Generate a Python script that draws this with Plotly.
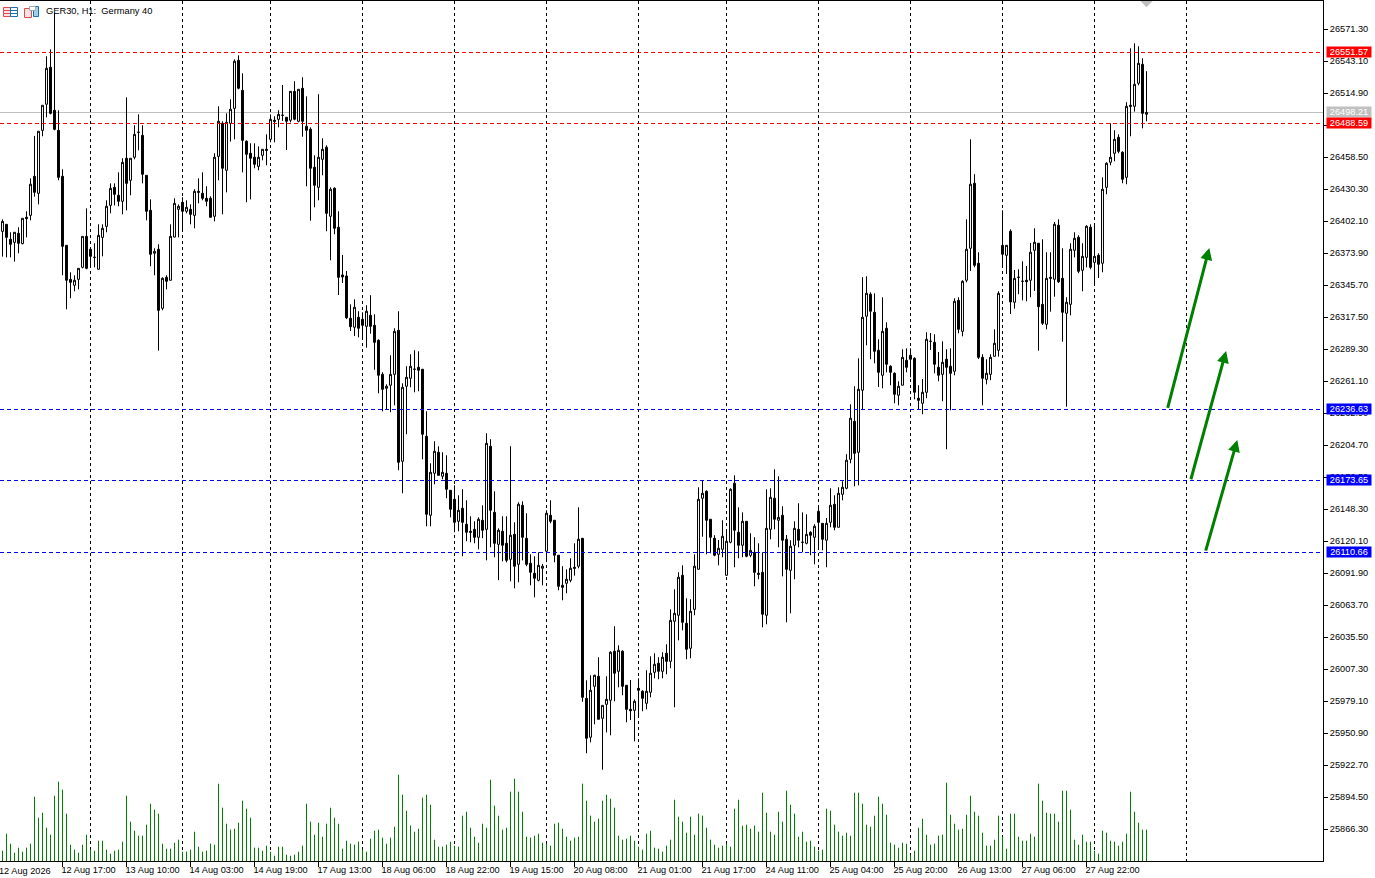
import plotly.graph_objects as go

opens = [
26393.4,26399.6,26386.4,26383.7,26391.7,26382.6,26405.8,26407.5,26441.9,26426.9,
26482.4,26505.4,26538.0,26500.1,26482.4,26441.9,26381.1,26351.1,26345.9,26351.1,
26361.7,26389.0,26377.6,26370.5,26360.0,26388.1,26397.8,26416.3,26432.2,26425.2,
26419.9,26457.8,26438.4,26458.7,26480.7,26478.0,26442.8,26411.9,26374.1,26377.6,
26325.6,26352.9,26350.3,26388.4,26412.8,26419.0,26411.1,26412.8,26407.5,26428.7,
26426.9,26422.5,26422.5,26406.7,26459.5,26488.6,26447.2,26488.6,26501.8,26544.1,
26517.7,26472.8,26462.2,26458.7,26450.7,26460.4,26465.7,26474.5,26491.3,26492.1,
26495.7,26493.9,26491.3,26516.8,26490.4,26519.5,26486.0,26483.4,26449.9,26432.2,
26456.9,26467.5,26406.7,26431.4,26397.0,26355.0,26354.1,26316.8,26308.9,26317.7,
26315.9,26309.7,26319.4,26310.6,26297.4,26267.4,26255.1,26257.8,26267.4,26306.2,
26190.8,26256.9,26263.9,26271.9,26273.6,26271.9,26212.8,26143.2,26180.2,26198.7,
26177.6,26180.2,26165.2,26157.3,26137.9,26149.4,26135.3,26129.1,26130.8,26123.8,
26138.8,26130.8,26204.0,26145.8,26117.6,26129.1,26118.5,26104.4,26126.4,26100.0,
26152.0,26122.9,26100.9,26092.1,26085.9,26096.5,26111.5,26143.2,26138.8,26108.0,
26081.5,26083.3,26085.9,26097.4,26098.3,26122.9,25981.9,25947.6,25992.5,26001.3,
25964.3,25976.6,25980.2,26023.4,26005.7,26023.4,25993.4,25972.2,25971.3,25990.7,
25988.1,25977.5,25987.2,26004.8,26012.8,26005.7,26021.6,26014.5,26049.8,26055.1,
26090.3,26048.0,26026.0,26060.3,26095.6,26158.2,26164.3,26139.7,26122.9,26108.8,
26113.2,26090.3,26119.4,26171.4,26128.2,26116.8,26137.9,26107.9,26110.6,26092.1,
26092.9,26055.1,26130.8,26158.2,26138.8,26143.2,26122.0,26094.7,26116.8,26130.8,
26119.4,26118.5,26128.2,26123.8,26146.7,26136.1,26121.2,26137.0,26152.9,26132.6,
26161.7,26167.0,26192.5,26226.0,26198.7,26253.4,26318.6,26338.0,26322.1,26288.6,
26266.6,26308.0,26274.5,26268.3,26249.0,26257.8,26279.8,26284.2,26281.5,26246.3,
26241.9,26251.6,26296.5,26295.6,26273.6,26267.4,26280.7,26274.5,26270.1,26332.6,
26305.3,26350.3,26378.5,26435.8,26365.3,26282.4,26263.0,26267.4,26283.3,26288.6,
26381.1,26372.3,26393.5,26330.9,26352.9,26349.4,26350.3,26350.3,26376.7,26382.9,
26329.1,26311.5,26352.9,26351.2,26398.8,26352.0,26321.2,26329.1,26376.7,26388.2,
26359.1,26370.5,26397.0,26366.1,26372.3,26365.3,26432.2,26454.3,26462.2,26476.3,
26463.1,26441.0,26504.5,26503.6,26523.9,26540.6,26496.6]

highs = [
26404.0,26399.6,26392.6,26392.6,26397.0,26404.9,26411.1,26440.1,26477.5,26481.6,
26504.5,26547.7,26553.8,26586.1,26500.1,26448.1,26381.1,26357.3,26354.7,26360.8,
26389.0,26413.7,26377.6,26382.9,26399.6,26399.6,26420.8,26435.7,26435.7,26445.4,
26457.8,26511.5,26457.8,26486.9,26496.5,26486.9,26442.8,26421.6,26378.5,26382.0,
26352.9,26354.7,26399.6,26422.5,26417.2,26423.4,26420.8,26417.2,26430.5,26440.1,
26445.4,26433.1,26424.3,26462.2,26503.6,26490.4,26497.4,26509.8,26545.0,26548.5,
26532.7,26473.6,26471.0,26471.0,26468.3,26465.7,26478.9,26496.5,26494.8,26500.1,
26522.4,26494.2,26516.8,26525.7,26518.6,26529.2,26512.4,26485.1,26460.4,26514.2,
26475.4,26469.2,26432.2,26432.2,26411.1,26372.6,26358.5,26329.1,26333.5,26323.0,
26322.1,26328.3,26337.1,26320.3,26298.3,26269.2,26258.6,26284.2,26308.0,26323.0,
26259.5,26274.5,26285.1,26288.6,26287.7,26271.9,26234.8,26189.0,26208.4,26204.0,
26198.7,26196.1,26165.2,26169.6,26160.8,26166.1,26156.4,26142.3,26137.9,26141.4,
26152.0,26215.5,26210.2,26164.3,26131.7,26142.3,26142.3,26204.0,26137.0,26154.6,
26155.5,26145.0,26108.8,26107.1,26110.6,26100.3,26147.6,26156.4,26139.1,26108.2,
26098.3,26095.6,26105.3,26118.5,26150.2,26123.2,25997.8,26002.2,26002.7,26018.1,
25975.7,26001.3,26023.4,26045.4,26028.6,26024.2,25993.4,25998.0,25981.0,25999.5,
25989.0,26006.6,26018.9,26021.6,26018.1,26022.5,26029.5,26060.3,26078.0,26093.0,
26099.1,26070.0,26069.2,26108.8,26167.9,26174.0,26165.2,26139.7,26125.6,26121.4,
26138.8,26129.1,26167.0,26178.4,26150.2,26145.8,26137.9,26127.3,26123.8,26118.5,
26110.6,26166.1,26167.0,26183.7,26177.6,26151.1,26125.8,26121.2,26137.9,26153.8,
26145.8,26144.1,26129.1,26135.3,26152.3,26136.1,26140.8,26167.0,26160.8,26167.9,
26173.2,26197.0,26241.0,26256.9,26281.5,26353.0,26353.8,26339.7,26338.8,26298.3,
26335.3,26313.3,26275.4,26269.2,26261.3,26289.5,26290.3,26290.3,26282.4,26257.8,
26263.3,26304.5,26303.8,26302.7,26287.1,26296.5,26289.5,26290.3,26334.4,26335.3,
26350.3,26404.0,26474.5,26443.7,26375.0,26285.1,26280.7,26285.1,26307.1,26340.6,
26412.0,26381.4,26395.2,26359.4,26360.0,26367.0,26362.9,26383.2,26396.1,26383.2,
26386.4,26375.0,26375.0,26401.7,26404.0,26378.5,26335.3,26382.9,26392.6,26390.0,
26382.9,26398.8,26399.6,26400.5,26374.1,26441.0,26454.3,26488.6,26482.5,26478.9,
26464.0,26507.2,26554.7,26559.1,26556.5,26545.9,26534.5]

lows = [
26371.1,26370.5,26370.5,26366.7,26374.1,26382.0,26388.1,26403.1,26424.0,26417.2,
26477.2,26493.9,26496.5,26482.4,26438.4,26354.7,26324.7,26334.4,26340.6,26342.3,
26360.8,26360.0,26361.7,26361.7,26360.0,26371.4,26392.6,26409.3,26416.3,26415.5,
26408.4,26411.9,26425.2,26456.9,26464.8,26435.7,26403.1,26362.6,26354.7,26288.3,
26323.8,26342.3,26350.3,26388.1,26388.1,26394.3,26409.3,26399.6,26396.1,26418.1,
26420.8,26415.5,26405.8,26402.2,26438.4,26408.4,26427.8,26472.5,26474.5,26518.6,
26445.4,26419.0,26421.6,26449.0,26447.2,26456.0,26451.6,26471.9,26471.9,26485.1,
26490.7,26465.1,26489.5,26491.3,26489.5,26476.8,26433.1,26402.8,26414.6,26420.8,
26442.8,26393.5,26367.9,26390.8,26337.3,26347.9,26316.2,26305.6,26301.2,26300.0,
26298.8,26290.9,26303.2,26271.5,26250.7,26234.8,26236.6,26234.0,26240.1,26182.9,
26162.6,26214.6,26256.0,26251.6,26252.5,26192.5,26133.5,26133.5,26170.5,26178.4,
26174.9,26158.2,26141.4,26128.2,26129.1,26107.1,26120.3,26119.4,26118.5,26113.2,
26123.0,26103.5,26115.0,26106.2,26086.0,26102.6,26101.7,26085.0,26078.9,26084.2,
26103.5,26098.3,26081.5,26070.9,26085.0,26081.5,26102.6,26136.1,26101.8,26077.1,
26068.3,26074.5,26084.1,26090.0,26096.5,25978.9,25933.5,25943.1,25959.0,25963.4,
25919.0,25951.9,25949.3,25979.3,25991.6,25984.6,25960.8,25962.8,25944.0,25966.1,
25970.5,25972.2,25982.8,25999.5,25998.7,25999.5,26003.1,26008.4,25974.0,26033.0,
26041.8,26016.3,26017.2,26055.1,26095.6,26124.3,26108.8,26109.7,26107.1,26099.1,
26106.2,26090.3,26118.5,26097.4,26105.3,26106.2,26106.2,26106.2,26080.6,26086.8,
26044.5,26047.1,26122.0,26130.8,26115.0,26089.4,26048.9,26056.8,26086.8,26115.0,
26110.6,26117.6,26108.0,26100.0,26115.0,26112.3,26097.4,26132.6,26130.0,26132.6,
26156.4,26166.1,26189.0,26168.7,26169.6,26236.6,26293.0,26280.7,26277.1,26256.3,
26255.1,26269.2,26257.8,26241.9,26240.1,26257.8,26269.2,26264.8,26245.4,26236.6,
26232.2,26246.3,26288.9,26268.3,26261.3,26243.7,26201.4,26235.7,26266.6,26303.6,
26300.9,26348.5,26358.5,26361.7,26280.9,26240.1,26258.6,26262.2,26283.3,26283.0,
26361.7,26355.8,26320.6,26325.3,26338.0,26332.6,26331.8,26335.3,26340.9,26288.2,
26310.9,26307.1,26322.6,26335.8,26347.9,26296.2,26238.9,26319.4,26370.5,26356.5,
26340.6,26361.7,26360.0,26346.1,26352.3,26357.3,26426.1,26451.6,26455.2,26462.2,
26435.8,26434.9,26477.2,26498.9,26522.1,26484.2,26490.4]

closes = [
26402.2,26388.1,26382.0,26392.6,26382.9,26404.9,26404.6,26434.9,26427.8,26481.6,
26504.5,26537.1,26497.4,26483.3,26441.0,26380.2,26350.3,26348.5,26350.3,26360.8,
26389.0,26360.8,26371.4,26370.5,26389.9,26396.1,26415.5,26431.3,26426.0,26419.9,
26454.2,26435.7,26457.8,26478.9,26480.7,26443.7,26411.1,26373.2,26375.8,26323.8,
26352.0,26349.4,26389.0,26418.1,26415.5,26411.1,26414.6,26408.4,26428.7,26427.8,
26422.5,26419.9,26405.8,26458.7,26490.4,26449.0,26489.5,26501.0,26543.3,26519.5,
26473.6,26461.3,26457.8,26452.5,26458.7,26465.7,26464.8,26492.1,26490.4,26496.5,
26495.7,26490.4,26516.8,26492.2,26518.6,26490.4,26482.5,26449.0,26434.0,26458.7,
26465.7,26409.3,26430.5,26396.1,26352.9,26353.2,26317.3,26309.4,26326.5,26308.0,
26310.6,26323.0,26309.7,26295.6,26266.6,26254.2,26256.9,26267.4,26305.3,26189.9,
26256.0,26264.8,26274.5,26271.9,26271.0,26214.6,26144.1,26181.1,26199.6,26178.4,
26181.1,26166.1,26148.5,26137.0,26147.6,26137.0,26128.2,26128.2,26123.8,26139.7,
26130.0,26206.6,26147.6,26118.5,26130.0,26116.8,26103.5,26125.6,26098.3,26152.9,
26123.8,26100.0,26093.0,26087.7,26099.1,26098.3,26145.0,26137.9,26108.0,26080.6,
26079.7,26086.8,26096.5,26096.5,26122.1,25982.8,25946.7,25989.0,26002.2,25963.4,
25975.7,25981.0,26022.5,26004.0,26024.2,25992.5,25972.2,25971.0,25979.3,25989.0,
25981.9,25988.1,26004.0,26011.9,26005.7,26018.1,26014.5,26050.6,26056.8,26088.6,
26048.9,26025.1,26058.6,26098.3,26157.3,26162.6,26138.8,26123.8,26108.0,26114.1,
26124.7,26120.3,26166.1,26130.0,26116.8,26137.9,26107.1,26112.3,26092.9,26091.2,
26056.0,26131.7,26159.0,26139.7,26141.4,26121.2,26095.6,26115.9,26131.7,26121.2,
26119.4,26126.4,26125.6,26133.5,26137.0,26122.0,26136.1,26152.0,26132.6,26162.6,
26167.9,26191.7,26228.7,26197.8,26254.2,26317.7,26338.8,26323.0,26287.7,26269.2,
26305.3,26276.3,26269.2,26249.8,26256.9,26282.4,26273.6,26280.7,26251.6,26244.5,
26251.6,26298.3,26296.5,26276.3,26266.6,26278.0,26273.6,26268.3,26331.8,26307.1,
26349.4,26377.6,26434.9,26363.5,26282.4,26263.9,26268.3,26282.4,26294.8,26338.8,
26373.2,26381.1,26331.2,26352.0,26352.9,26349.4,26349.0,26375.0,26383.8,26327.0,
26312.4,26352.0,26352.0,26399.6,26349.0,26322.1,26330.9,26377.6,26387.3,26358.2,
26371.4,26397.9,26361.7,26371.4,26364.4,26430.5,26453.4,26458.7,26474.5,26463.9,
26439.3,26503.6,26503.6,26523.0,26541.5,26497.4,26498.2]

tick_volume = [
10,27,17,8,13,9,13,17,64,43,48,33,26,65,79,71,47,16,11,8,
16,26,11,10,20,20,11,7,10,11,19,65,39,30,25,25,36,57,51,47,
17,12,12,18,21,9,9,11,29,14,9,10,17,16,77,53,37,31,32,38,
60,52,43,13,13,10,15,9,5,14,14,6,5,6,9,15,57,39,26,38,
24,37,53,43,37,12,20,17,16,19,11,9,22,30,31,23,17,23,34,86,
66,50,35,29,32,63,66,56,21,14,14,16,19,15,14,45,49,33,24,18,
37,33,81,55,45,31,33,69,82,69,49,24,23,25,27,18,17,15,37,38,
32,24,20,23,24,77,60,45,39,42,60,66,62,53,25,21,22,25,20,14,
11,27,30,13,12,9,15,21,61,44,39,28,44,26,47,45,33,21,16,13,
15,17,14,52,61,35,36,32,35,29,68,48,29,26,49,39,70,56,47,24,
29,19,20,14,10,11,52,50,36,29,25,28,25,68,68,57,36,34,45,64,
57,46,18,16,13,18,17,6,10,33,42,26,16,17,25,26,78,46,37,31,
32,46,65,49,45,28,15,15,21,45,24,12,47,47,24,20,20,27,24,77,
60,48,47,47,39,70,70,51,21,16,26,19,19,10,7,30,28,20,19,15,
19,27,69,49,38,31,31]

price_ticks = [26571.3,26543.1,26514.9,26486.7,26458.5,26430.3,26402.1,26373.9,26345.7,
               26317.5,26289.3,26261.1,26232.9,26204.7,26176.5,26148.3,26120.1,26091.9,
               26063.7,26035.5,26007.3,25979.1,25950.9,25922.7,25894.5,25866.3]
time_tick_bars = [15,31,47,63,79,95,111,127,143,159,175,191,207,223,239,255,271]
time_tick_labels = ["12 Aug 17:00","13 Aug 10:00","14 Aug 03:00","14 Aug 19:00","17 Aug 13:00",
                    "18 Aug 06:00","18 Aug 22:00","19 Aug 15:00","20 Aug 08:00","21 Aug 01:00",
                    "21 Aug 17:00","24 Aug 11:00","25 Aug 04:00","25 Aug 20:00","26 Aug 13:00",
                    "27 Aug 06:00","27 Aug 22:00"]
grid_bars = [22,45,67,90,113,136,159,181,204,227,250,273,296]
red_levels = [26551.57,26488.59]
blue_levels = [26236.63,26173.65,26110.66]
last_price = 26498.21
# arrows: tail bar, tail price, tip bar, tip price
arrows = [(291.2,26236.63,301.7,26378.8),(297.0,26173.65,305.9,26288.0),(300.7,26110.66,308.7,26209.6)]

W, H = 1375, 878
L, R, T, B = 0, 52, 1, 17
Y_TOP, Y_BOT = 26596.4, 25838.54
FONT = "Liberation Sans"
FS = 9.2
GREEN = "#008000"
bars = list(range(len(opens)))
PER_PX = (Y_TOP - Y_BOT) / (H - T - B)

def px(x):
    return (x - L) / (W - L - R)
def py(y):
    return (H - B - y) / (H - T - B)
def snap(price):
    # the terminal draws a level on a whole pixel row
    row = round(T + (Y_TOP - price) / PER_PX - 0.3)
    return Y_TOP - (row + 0.5 - T) * PER_PX

fig = go.Figure()
# volume: one-pixel stems from the baseline, taken from the volume values
fig.add_trace(go.Scatter(x=bars, y=tick_volume, yaxis="y2", mode="markers",
                         marker=dict(size=1, color=GREEN),
                         error_y=dict(type="percent", symmetric=False, value=0, valueminus=100,
                                      color=GREEN, thickness=1, width=0),
                         hoverinfo="skip"))
fig.add_trace(go.Candlestick(x=bars, open=opens, high=highs, low=lows, close=closes,
                             whiskerwidth=0,
                             increasing=dict(line=dict(color="black", width=1), fillcolor="white"),
                             decreasing=dict(line=dict(color="black", width=1), fillcolor="black")))
fig.add_trace(go.Scatter(x=[bars[-1]], y=[26597.3], mode="markers", cliponaxis=True,
                         marker=dict(symbol="diamond", size=11, color="#c0c0c0"), hoverinfo="skip"))

shapes = []
for lv in red_levels:
    shapes.append(dict(type="line", xref="paper", x0=0, x1=1, yref="y", y0=snap(lv), y1=snap(lv),
                       line=dict(color="#ff0000", width=1, dash="4px,3px")))
for lv in blue_levels:
    shapes.append(dict(type="line", xref="paper", x0=0, x1=1, yref="y", y0=snap(lv), y1=snap(lv),
                       line=dict(color="#0000ff", width=1, dash="4px,3px")))
shapes.append(dict(type="line", xref="paper", x0=0, x1=1, yref="y", y0=snap(last_price), y1=snap(last_price),
                   line=dict(color="#c0c0c0", width=1), layer="below"))

def box(x0, y0, x1, y1, fill="rgba(0,0,0,0)", line=None, w=1):
    shapes.append(dict(type="rect", xref="paper", yref="paper", x0=px(x0), x1=px(x1),
                       y0=py(y1), y1=py(y0), fillcolor=fill,
                       line=dict(color=line or "rgba(0,0,0,0)", width=w if line else 0)))
def seg(x0, y0, x1, y1, c):
    shapes.append(dict(type="line", xref="paper", yref="paper", x0=px(x0), x1=px(x1),
                       y0=py(y0), y1=py(y1), line=dict(color=c, width=1)))
RED_I, BLU_I = "#e04a4a", "#1a6fb5"
box(3.5, 7.5, 10.5, 16.5, "#fbe3e3", RED_I)
box(10.5, 7.5, 17.5, 16.5, "#ffffff", BLU_I)
for yy in (10.5, 13.5):
    seg(4, yy, 10, yy, RED_I)
    seg(11, yy, 17, yy, BLU_I)
box(24.5, 8.5, 31.5, 17.5, "#fbe3e3", RED_I)
box(33.5, 6.5, 38.5, 16.5, "#9fd0ef", BLU_I)
box(29.5, 6.5, 35.5, 10.5, "#ffffff", "#a8a8a8")

annotations = []
annotations.append(dict(xref="paper", yref="paper", x=px(43.5), y=py(11.5), xanchor="left", yanchor="middle",
                        text="GER30, H1:\u00a0\u00a0Germany 40", showarrow=False,
                        font=dict(family=FONT, size=9.3, color="black")))
annotations.append(dict(xref="paper", yref="paper", x=px(-3), y=py(870.5), xanchor="left", yanchor="middle",
                        text="12 Aug 2026", showarrow=False, font=dict(family=FONT, size=FS, color="black")))
def tag(price, text, bg):
    annotations.append(dict(xref="paper", yref="y", x=px(1326), y=snap(price), yshift=1,
                            xanchor="left", yanchor="middle",
                            text=text, showarrow=False, width=44, height=10, bgcolor=bg, borderpad=0,
                            align="center", font=dict(family=FONT, size=FS, color="white")))
tag(last_price, f"{last_price:.2f}", "#c0c0c0")
for lv in red_levels:
    tag(lv, f"{lv:.2f}", "#ff0000")
for lv in blue_levels:
    tag(lv, f"{lv:.2f}", "#0000ff")
for (tx, ty, hx, hy) in arrows:
    annotations.append(dict(x=hx, y=hy, ax=tx, ay=ty, xref="x", yref="y", axref="x", ayref="y",
                            text="", showarrow=True, arrowhead=2, arrowsize=0.8, arrowwidth=3,
                            arrowcolor=GREEN, standoff=0, startstandoff=0))

fig.update_layout(
    width=W, height=H, margin=dict(l=L, r=R, t=T, b=B, pad=0),
    paper_bgcolor="white", plot_bgcolor="white", showlegend=False,
    font=dict(family=FONT, size=FS, color="black"),
    shapes=shapes, annotations=annotations,
    xaxis=dict(range=[-0.625, 330.125], rangeslider=dict(visible=False), showgrid=False, zeroline=False,
               showline=True, linecolor="black", linewidth=1, mirror=True,
               tickmode="array", tickvals=time_tick_bars, ticktext=time_tick_labels,
               ticks="outside", ticklen=5, tickcolor="black", tickwidth=1,
               ticklabelposition="outside right", ticklabelshift=-2, tickangle=0,
               tickfont=dict(family=FONT, size=FS, color="black"),
               minor=dict(tickmode="array", tickvals=grid_bars, showgrid=True, gridcolor="black",
                          griddash="3px,3px", gridwidth=1, ticks="")),
    yaxis=dict(range=[Y_BOT, Y_TOP], side="right", showgrid=False, zeroline=False,
               showline=True, linecolor="black", linewidth=1,
               tickmode="array", tickvals=price_ticks, tickformat=".2f",
               ticks="outside", ticklen=4, tickcolor="black", tickwidth=1, ticklabelshift=-1,
               tickfont=dict(family=FONT, size=FS, color="black")),
    yaxis2=dict(range=[0, 860], overlaying="y", side="right", visible=False),
)
fig.write_html("out.html", config=dict(displayModeBar=False),
               post_script="document.body.style.margin='0';document.body.style.overflow='hidden';")
